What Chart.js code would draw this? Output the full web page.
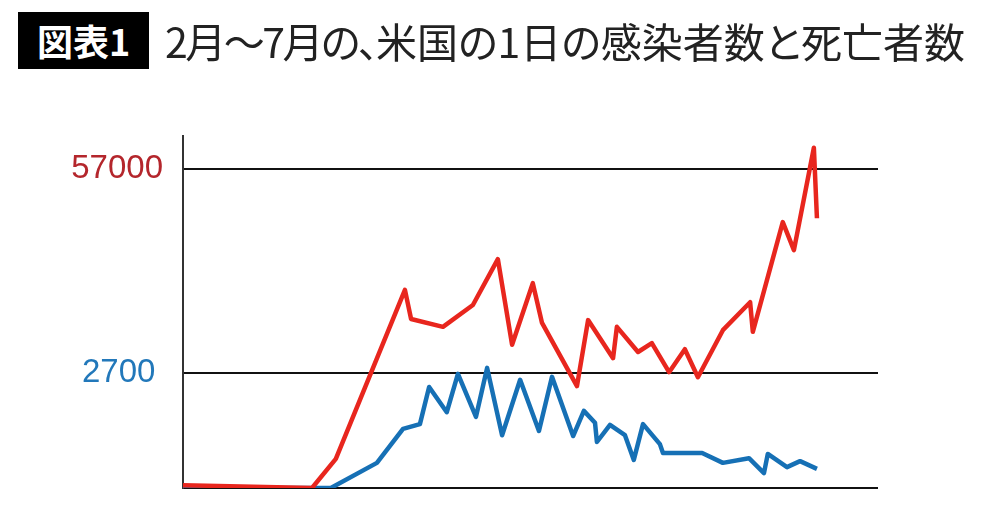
<!DOCTYPE html>
<html>
<head>
<meta charset="utf-8">
<script src="https://cdn.jsdelivr.net/npm/chart.js@4/dist/chart.umd.min.js"></script>
<style>
  body { margin: 0; background: #fff; }
  #wrap { position: relative; width: 1000px; height: 530px; }
  #badge {
    position: absolute; left: 18px; top: 12px; width: 131px; height: 57px;
    background: #000; color: #fff; font: bold 36px "Noto Sans CJK JP";
    line-height: 57px; text-align: center;
  }
  #title {
    position: absolute; left: 165px; top: 12px; height: 57px;
    color: #222; font: 41px "Noto Sans CJK JP"; line-height: 57px; white-space: nowrap;
    font-feature-settings: "palt";
  }
  #title .tight { letter-spacing: -2.5px; }
  canvas { position: absolute; left: 0; top: 0; }
</style>
</head>
<body>
<div id="wrap">
  <canvas id="lineChart" width="1000" height="530"></canvas>
  <div id="badge">図表1</div>
  <div id="title"><span class="tight">2月～7月の、</span>米国の1日の感染者数と死亡者数</div>
</div>
<script>
// x = days since Feb 1
const casesDays = [0, 33.6, 39.8, 57.8, 59.4, 67.7, 75.5, 82.0, 85.7, 91.1, 93.5, 102.6, 105.5,
  112.0, 113.0, 118.5, 122.1, 126.6, 130.7, 134.1, 140.6, 147.7, 148.4, 156.2, 159.1, 164.3, 165.1];
const casesValues = [500, 0, 5200, 35400, 30200, 28800, 32700, 40900, 25600, 36600, 29500, 18200, 30000,
  23200, 28800, 24300, 25900, 20700, 24800, 19800, 28200, 33200, 27900, 47500, 42500, 60800, 48200];

const deathsDays = [0, 38.5, 50.5, 57.3, 61.7, 64.1, 68.7, 71.6, 76.3, 79.2, 83.1, 87.8, 92.7, 96.1,
  101.6, 104.4, 107.3, 107.8, 111.2, 115.1, 117.4, 119.8, 124.2, 125.0, 135.2, 140.6, 147.4, 151.3,
  152.3, 157.3, 160.7, 165.1];
const deathsValues = [0, 0, 590, 1390, 1500, 2370, 1780, 2680, 1670, 2820, 1240, 2540, 1340, 2610,
  1220, 1810, 1530, 1080, 1480, 1240, 660, 1500, 1030, 820, 820, 590, 700, 350,
  800, 490, 630, 450];

const casesTicks = [57000];
const deathsTicks = [0, 2700];

const toPoints = (xs, ys) => xs.map((x, i) => ({ x: x, y: ys[i] }));

const ctx = document.getElementById("lineChart");

new Chart(ctx, {
  type: "line",
  data: {
    datasets: [
      {
        label: "感染者数",
        data: toPoints(casesDays, casesValues),
        borderColor: "rgb(232, 38, 30)",
        borderWidth: 4.5,
        borderJoinStyle: "round",
        pointRadius: 0,
        tension: 0,
        yAxisID: "y",
      },
      {
        label: "死亡者数",
        data: toPoints(deathsDays, deathsValues),
        borderColor: "rgb(22, 112, 181)",
        borderWidth: 4.5,
        borderJoinStyle: "round",
        pointRadius: 0,
        tension: 0,
        yAxisID: "y1",
      },
    ],
  },
  options: {
    responsive: false,
    animation: false,
    devicePixelRatio: 1,
    layout: { padding: { left: 0, right: 122, top: 136, bottom: 42 } },
    plugins: { legend: { display: false }, tooltip: { enabled: false } },
    scales: {
      x: {
        type: "linear",
        display: false,
        min: 0,
        max: 181,
      },
      y: {
        position: "left",
        weight: 1,
        min: 0,
        max: 62897,
        afterBuildTicks: (scale) => { scale.ticks = casesTicks.map((v) => ({ value: v })); },
        ticks: {
          color: "rgb(180, 38, 44)",
          font: { family: "Liberation Sans", size: 33 },
          padding: 20,
          callback: (v) => String(v),
        },
        grid: { color: "#111", lineWidth: 2, drawTicks: false },
        border: { display: false },
        afterFit: (scale) => { scale.width = 183; },
      },
      y1: {
        position: "left",
        weight: 0,
        min: 0,
        max: 8264,
        afterBuildTicks: (scale) => { scale.ticks = deathsTicks.map((v) => ({ value: v })); },
        ticks: {
          color: "rgb(34, 120, 186)",
          font: { family: "Liberation Sans", size: 33 },
          mirror: true,
          padding: -101,
          callback: (v) => (v === 0 ? "" : String(v)),
        },
        grid: { color: "#111", lineWidth: 2, drawTicks: false },
        border: { display: true, color: "#333", width: 2 },
        afterFit: (scale) => { scale.width = 0; },
      },
    },
  },
});
</script>
</body>
</html>
